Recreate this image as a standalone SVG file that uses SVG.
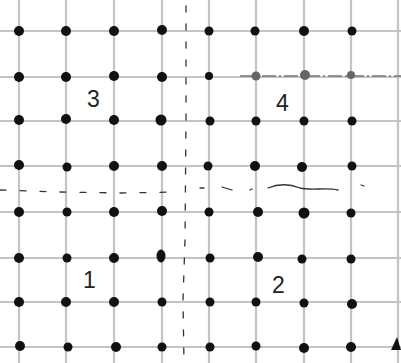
<svg xmlns="http://www.w3.org/2000/svg" width="401" height="363" viewBox="0 0 401 363">
<style>
.g{stroke:#c4c4c4;stroke-width:2.2;fill:none}
.d{fill:#111}
.gd{fill:#666}
.dash{stroke:#333;stroke-width:1.3;fill:none;stroke-linecap:round}
.lbl{font-family:"Liberation Sans",Arial,sans-serif;font-size:23px;fill:#222}
</style>
<rect width="401" height="363" fill="#fff"/>
<g id="grid">
<path class="g" d="M19,0V363M66,0V363M114,0V363M162,0V363M209,0V363M256,0V363M304,0V363M351,0V363M398,0V363"/>
<path class="g" d="M0,31H401M0,77H401M0,121H401M0,166H401M0,212H401M0,258H401M0,302H401M0,347H401"/>
<path d="M240,76H401" stroke="#777" stroke-width="1.5" stroke-dasharray="14 3 2 3"/>
</g>
<g id="dots">
<g class="d">
<circle cx="19" cy="31" r="5"/><circle cx="66" cy="31" r="5"/><circle cx="114" cy="31" r="5"/><circle cx="162" cy="30" r="5"/><circle cx="209" cy="31" r="4.5"/><circle cx="255" cy="31" r="4.5"/><circle cx="304" cy="31" r="5"/><circle cx="352" cy="31" r="4.5"/>
<circle cx="19" cy="77" r="5"/><circle cx="66" cy="77" r="5"/><circle cx="114" cy="76" r="5"/><circle cx="162" cy="77" r="5"/><circle cx="209" cy="76" r="4"/>
<circle cx="19" cy="120" r="5"/><circle cx="66" cy="119" r="5"/><circle cx="114" cy="120" r="5"/><circle cx="161" cy="120" r="5.5"/><circle cx="210" cy="121" r="4.5"/><circle cx="256" cy="121" r="4.5"/><circle cx="304" cy="121" r="4.5"/><circle cx="352" cy="121" r="4.5"/>
<circle cx="19" cy="165" r="5"/><circle cx="67" cy="167" r="4.5"/><circle cx="114" cy="166" r="5"/><circle cx="162" cy="166" r="5"/><circle cx="208" cy="166" r="4.5"/><circle cx="255" cy="166" r="5"/><circle cx="302" cy="167" r="5"/><circle cx="352" cy="166" r="4.5"/>
<circle cx="19" cy="212" r="5"/><circle cx="67" cy="212" r="4.5"/><circle cx="114" cy="212" r="5"/><circle cx="162" cy="211" r="5"/><circle cx="209" cy="212" r="4.5"/><circle cx="258" cy="212" r="5"/><circle cx="304" cy="213" r="5.5"/><circle cx="351" cy="213" r="4.5"/>
<circle cx="19" cy="258" r="5"/><circle cx="67" cy="258" r="4.5"/><circle cx="114" cy="258" r="5"/><ellipse cx="161" cy="256" rx="4.5" ry="6.5"/><circle cx="210" cy="258" r="4.5"/><circle cx="258" cy="257" r="5"/><circle cx="302" cy="259" r="4.5"/><circle cx="351" cy="259" r="4.5"/>
<circle cx="19" cy="302" r="5"/><circle cx="66" cy="302" r="5"/><circle cx="114" cy="302" r="5"/><circle cx="162" cy="302" r="4.5"/><circle cx="210" cy="302" r="4.5"/><circle cx="256" cy="302" r="4.5"/><circle cx="304" cy="303" r="4.5"/><circle cx="352" cy="304" r="5"/>
<circle cx="20" cy="346" r="5"/><circle cx="68" cy="347" r="4.5"/><circle cx="116" cy="347" r="5"/><circle cx="162" cy="347" r="4.5"/><circle cx="210" cy="347" r="4.5"/><circle cx="256" cy="346" r="4.5"/><circle cx="304" cy="348" r="5"/><circle cx="351" cy="347" r="5"/>
<path d="M391,350L397,337L401,350Z"/>
</g>
<g class="gd">
<circle cx="256" cy="76" r="4.5"/><circle cx="305" cy="75" r="5"/><circle cx="351" cy="75" r="4"/>
</g>
</g>
<g id="dashed">
<path class="dash" d="M0,190L60,192L120,193L178,192" stroke-dasharray="6 14"/>
<path class="dash" d="M200,188L204,188M222,187L232,190M250,190L252,189"/>
<path class="dash" d="M268,188C280,183 290,184 300,188C312,191 325,187 338,190"/>
<path class="dash" d="M361,185L364,186"/>
<path class="dash" d="M186,6L186,120L185,240L183,300L184,363" stroke="#555" stroke-dasharray="6 12"/>
</g>
<g id="labels">
<text class="lbl" x="87" y="107">3</text>
<text class="lbl" x="276" y="111">4</text>
<text class="lbl" x="83" y="288">1</text>
<text class="lbl" x="272" y="293">2</text>
</g>
</svg>
